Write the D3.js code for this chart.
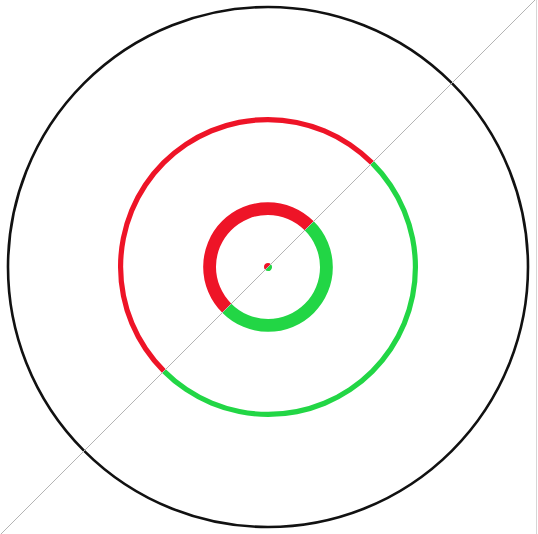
<!DOCTYPE html>
<html>
<head>
<meta charset="utf-8">
<script src="https://cdn.jsdelivr.net/npm/d3@7"></script>
<style>
  html, body { margin: 0; padding: 0; background: #fff; }
  svg { display: block; }
</style>
</head>
<body>
<div id="chart"></div>
<script>
// ---- data ----
const rings = ["outer", "inner", "core"];
const ringRadius = [0.566, 0.224, 0.0];   // radius relative to boundary circle (1.0)
const redShare = [50, 50, 50];
const greenShare = [50, 50, 50];
const boundary = [1.0];
const identityLine = [[-1.1, -1.1], [1.1, 1.1]];

// ---- layout ----
const W = 538, H = 534;
const cx = 268, cy = 267, R = 260;
const widths = [5.2, 12.8, 8];
const colors = ["#ee1427", "#22d645"];

const svg = d3.select("#chart").append("svg")
  .attr("width", W).attr("height", H);

const x = d3.scaleLinear().domain([-1, 1]).range([cx - R, cx + R]);
const y = d3.scaleLinear().domain([-1, 1]).range([cy + R, cy - R]);
const r = d3.scaleLinear().domain([0, 1]).range([0, R]);

// right border
svg.append("line")
  .attr("x1", W - 1.5).attr("x2", W - 1.5).attr("y1", 0).attr("y2", H)
  .attr("stroke", "#d6d6d6").attr("stroke-width", 1);

// boundary circle
svg.selectAll("circle.boundary").data(boundary).enter().append("circle")
  .attr("class", "boundary")
  .attr("cx", x(0)).attr("cy", y(0)).attr("r", d => r(d))
  .attr("fill", "none").attr("stroke", "#111").attr("stroke-width", 2.6);

const pie = d3.pie().sort(null).startAngle(-3 * Math.PI / 4).endAngle(5 * Math.PI / 4);

const g = svg.append("g").attr("transform", `translate(${x(0)},${y(0)})`);

rings.forEach((name, i) => {
  const slices = pie([redShare[i], greenShare[i]]);
  const rr = r(ringRadius[i]);
  const arc = d3.arc()
    .innerRadius(rr === 0 ? 0 : rr - widths[i] / 2)
    .outerRadius(rr === 0 ? widths[i] / 2 : rr + widths[i] / 2);
  g.selectAll(`path.ring${i}`).data(slices).enter().append("path")
    .attr("class", `ring${i}`)
    .attr("d", arc)
    .attr("fill", (d, j) => colors[j]);
});

// identity diagonal line
svg.append("line")
  .attr("x1", x(identityLine[0][0])).attr("y1", y(identityLine[0][1]))
  .attr("x2", x(identityLine[1][0])).attr("y2", y(identityLine[1][1]))
  .attr("stroke", "#b4b4b4").attr("stroke-width", 1);
</script>
</body>
</html>
